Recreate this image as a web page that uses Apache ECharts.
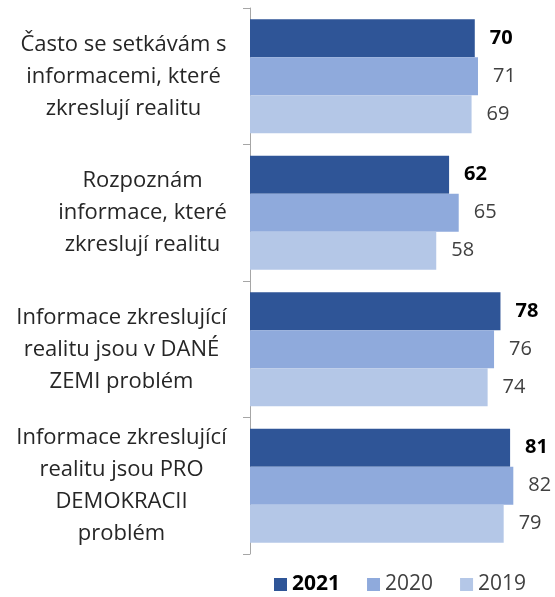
<!DOCTYPE html>
<html>
<head>
<meta charset="utf-8">
<script src="https://cdn.jsdelivr.net/npm/echarts@6/dist/echarts.min.js"></script>
<style>html,body{margin:0;padding:0;background:#fff}#c{width:555px;height:597px}</style>
</head>
<body>
<div id="c"></div>
<script>
var categories = [
  "Často se setkávám s\ninformacemi, které\nzkreslují realitu",
  "Rozpoznám\ninformace, které\nzkreslují realitu",
  "Informace zkreslující\nrealitu jsou v DANÉ\nZEMI problém",
  "Informace zkreslující\nrealitu jsou PRO\nDEMOKRACII\nproblém"
];
var seriesNames = ["2021", "2020", "2019"];
var values2021 = [70, 62, 78, 81];
var values2020 = [71, 65, 76, 82];
var values2019 = [69, 58, 74, 79];

var FONT = "Open Sans";
var CAT_SIZE = 22;
var colors = ["#2F5597", "#8FAADC", "#B4C7E7"];

// measure label blocks so that lines are centered inside a right-aligned block
var cv = document.createElement('canvas').getContext('2d');
cv.font = CAT_SIZE + "px '" + FONT + "'";
var rich = {};
categories.forEach(function (c, i) {
  var w = 0;
  c.split('\n').forEach(function (l) { w = Math.max(w, cv.measureText(l).width); });
  rich['b' + i] = { width: Math.ceil(w) + 2, align: 'center', fontSize: CAT_SIZE, lineHeight: 32, fontFamily: FONT, color: '#262626' };
});

var chart = echarts.init(document.getElementById('c'), null, { renderer: 'canvas' });
function mkSeries(name, data, idx) {
  return {
    name: name, type: 'bar', data: data,
    barWidth: 38, barGap: '0%',
    itemStyle: { color: colors[idx] },
    label: {
      show: true, position: 'right', distance: 15,
      fontFamily: FONT, fontSize: 20,
      fontWeight: idx === 0 ? 'bold' : 'normal',
      color: idx === 0 ? '#000000' : '#404040'
    }
  };
}
chart.setOption({
  animation: false,
  grid: { left: 250, right: 16, top: 8, bottom: 43, containLabel: false },
  xAxis: { type: 'value', min: 0, max: 90, show: false },
  yAxis: {
    type: 'category', data: categories, inverse: true,
    axisLine: { show: true, lineStyle: { color: '#A6A6A6', width: 1 } },
    axisTick: { show: true, length: 7, lineStyle: { color: '#A6A6A6' } },
    axisLabel: {
      margin: 22,
      formatter: function (v, i) {
        return v.split('\n').map(function (l) { return '{b' + i + '|' + l + '}'; }).join('\n');
      },
      rich: rich
    }
  },
  legend: {
    data: seriesNames, left: 274, top: 574, padding: 0, icon: 'rect',
    itemWidth: 13, itemHeight: 13, itemGap: 27,
    textStyle: { fontFamily: FONT, fontSize: 21, color: '#404040',
      rich: { b: { fontWeight: 'bold', color: '#000', fontFamily: FONT, fontSize: 21 } } },
    formatter: function (n) { return n === '2021' ? '{b|' + n + '}' : n; }
  },
  series: [
    mkSeries(seriesNames[0], values2021, 0),
    mkSeries(seriesNames[1], values2020, 1),
    mkSeries(seriesNames[2], values2019, 2)
  ]
});
</script>
</body>
</html>
